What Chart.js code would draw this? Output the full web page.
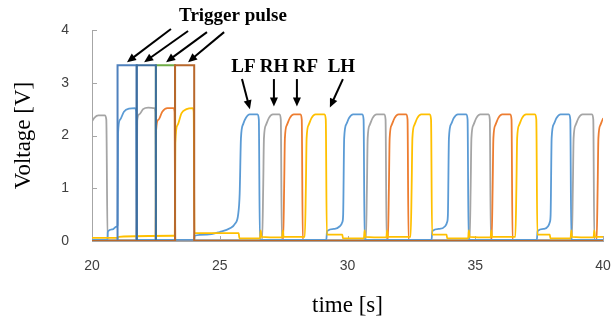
<!DOCTYPE html>
<html>
<head>
<meta charset="utf-8">
<script src="https://cdn.jsdelivr.net/npm/chart.js@4.4.1/dist/chart.umd.min.js"></script>
<style>
  body { margin: 0; background: #fff; }
</style>
</head>
<body>
<canvas id="myChart" width="615" height="320"></canvas>
<script>
// axis ticks
const xTicks = [20, 25, 30, 35, 40]
const yTicks = [0, 1, 2, 3, 4]

// trigger pulses [time s, volt]
const trigger1 = [[21.0, 0], [21.0, 3.33], [21.75, 3.33], [21.75, 0]]
const trigger2 = [[21.75, 0], [21.75, 3.33], [22.5, 3.33], [22.5, 0]]
const trigger3 = [[22.5, 0], [22.5, 3.33], [23.25, 3.33], [23.25, 0]]
const trigger4 = [[20, 0], [23.25, 0], [23.25, 3.33], [24.0, 3.33], [24.0, 0], [40, 0]]

// LF sensor (blue)
const lfTrace = [
  [20.0, 0.02], [20.6, 0.02], [20.62, 0.18], [20.8, 0.22], [20.95, 0.27],
  [21.0, 0.3], [21.02, 2.05], [21.1, 2.3], [21.25, 2.45], [21.45, 2.51], [21.68, 2.52], [21.73, 2.45], [21.76, 0.02],
  [24.0, 0.02], [24.02, 0.1], [24.5, 0.12], [25.0, 0.17], [25.4, 0.24], [25.6, 0.33], [25.72, 0.5],
  [25.78, 0.9], [25.83, 1.95], [25.92, 2.22], [26.02, 2.33], [26.17, 2.4], [26.48, 2.4], [26.53, 2.3], [26.57, 0.02],
  [29.17, 0.02], [29.2, 0.19], [29.5, 0.23], [29.7, 0.28], [29.8, 0.36],
  [29.83, 0.5], [29.87, 1.95], [29.96, 2.22], [30.06, 2.33], [30.22, 2.4], [30.58, 2.4], [30.63, 2.3], [30.67, 0.02],
  [33.29, 0.02], [33.32, 0.19], [33.6, 0.23], [33.82, 0.28], [33.9, 0.36],
  [33.93, 0.5], [33.97, 1.95], [34.06, 2.22], [34.16, 2.33], [34.32, 2.4], [34.65, 2.4], [34.7, 2.3], [34.74, 0.02],
  [37.41, 0.02], [37.44, 0.19], [37.7, 0.23], [37.85, 0.28], [37.92, 0.36],
  [37.95, 0.5], [37.99, 1.95], [38.08, 2.22], [38.18, 2.33], [38.34, 2.4], [38.67, 2.4], [38.72, 2.3], [38.76, 0.02],
  [40.1, 0.02]
]

// RH sensor (gray)
const rhTrace = [
  [20.0, 2.27], [20.1, 2.34], [20.25, 2.38], [20.5, 2.38], [20.56, 2.3], [20.61, 0.02],
  [21.74, 0.02], [21.77, 2.28], [21.85, 2.4], [22.0, 2.5], [22.2, 2.53], [22.44, 2.52], [22.48, 2.45], [22.51, 0.02],
  [26.66, 0.02], [26.7, 1.0], [26.73, 1.95], [26.81, 2.2], [26.92, 2.33], [27.08, 2.4], [27.34, 2.4], [27.39, 2.3], [27.43, 0.02],
  [30.72, 0.02], [30.76, 1.0], [30.79, 1.95], [30.87, 2.2], [30.98, 2.33], [31.14, 2.4], [31.44, 2.4], [31.49, 2.3], [31.53, 0.02],
  [34.78, 0.02], [34.82, 1.0], [34.85, 1.95], [34.93, 2.2], [35.04, 2.33], [35.2, 2.4], [35.52, 2.4], [35.57, 2.3], [35.61, 0.02],
  [38.78, 0.02], [38.82, 1.0], [38.85, 1.95], [38.93, 2.2], [39.04, 2.33], [39.2, 2.4], [39.57, 2.4], [39.62, 2.3], [39.66, 0.02],
  [40.1, 0.02]
]

// RF sensor (orange)
const rfTrace = [
  [20.0, 0], [22.49, 0], [22.51, 2.1], [22.6, 2.3], [22.75, 2.45], [22.95, 2.52], [23.19, 2.52], [23.23, 2.45], [23.26, 0],
  [27.48, 0], [27.52, 1.0], [27.55, 1.95], [27.63, 2.2], [27.74, 2.33], [27.9, 2.4], [28.16, 2.4], [28.21, 2.3], [28.25, 0],
  [31.58, 0], [31.62, 1.0], [31.65, 1.95], [31.73, 2.2], [31.84, 2.33], [32.0, 2.4], [32.3, 2.4], [32.35, 2.3], [32.39, 0],
  [35.64, 0], [35.68, 1.0], [35.71, 1.95], [35.79, 2.2], [35.9, 2.33], [36.06, 2.4], [36.37, 2.4], [36.42, 2.3], [36.46, 0],
  [39.75, 0], [39.79, 1.0], [39.82, 1.95], [39.9, 2.2], [40.01, 2.33], [40.17, 2.4]
]

// LH sensor (yellow)
const lhTrace = [
  [20.0, 0.06], [21.0, 0.06], [21.05, 0.08], [23.2, 0.1], [23.24, 0.1],
  [23.26, 1.85], [23.35, 2.2], [23.5, 2.42], [23.7, 2.5], [23.94, 2.52], [23.98, 2.45], [24.01, 0.15], [25.74, 0.15], [25.77, 0.05],
  [26.58, 0.05], [26.6, 0.2], [26.64, 0.08], [27.44, 0.07], [27.47, 0.2], [27.5, 0.08], [28.33, 0.08],
  [28.37, 1.0], [28.4, 1.95], [28.48, 2.2], [28.59, 2.33], [28.75, 2.4], [29.1, 2.4], [29.15, 2.3], [29.19, 0.12], [29.8, 0.12], [29.82, 0.05],
  [30.64, 0.05], [30.67, 0.2], [30.7, 0.08], [31.52, 0.07], [31.55, 0.2], [31.58, 0.08], [32.47, 0.08],
  [32.51, 1.0], [32.54, 1.95], [32.62, 2.2], [32.73, 2.33], [32.89, 2.4], [33.22, 2.4], [33.27, 2.3], [33.31, 0.12], [33.88, 0.12], [33.9, 0.05],
  [34.72, 0.05], [34.75, 0.2], [34.78, 0.08], [35.6, 0.07], [35.63, 0.2], [35.66, 0.08], [36.57, 0.08],
  [36.61, 1.0], [36.64, 1.95], [36.72, 2.2], [36.83, 2.33], [36.99, 2.4], [37.34, 2.4], [37.39, 2.3], [37.43, 0.12], [37.92, 0.12], [37.94, 0.05],
  [38.73, 0.05], [38.76, 0.2], [38.79, 0.08], [39.63, 0.07], [39.66, 0.2], [39.69, 0.08], [40.1, 0.08]
]

function trace(data, color, order) {
  return {
    data: data,
    showLine: true,
    borderColor: color,
    borderWidth: 1.8,
    pointRadius: 0,
    cubicInterpolationMode: 'monotone',
    order: order
  }
}

function pulse(data, color, order) {
  return {
    data: data,
    showLine: true,
    borderColor: color,
    borderWidth: 2,
    pointRadius: 0,
    tension: 0,
    order: order
  }
}

function arrow(ctx, x1, y1, x2, y2) {
  const a = Math.atan2(y2 - y1, x2 - x1)
  const h = 9, w = 4
  ctx.beginPath()
  ctx.moveTo(x1, y1)
  ctx.lineTo(x2 - h * 0.8 * Math.cos(a), y2 - h * 0.8 * Math.sin(a))
  ctx.stroke()
  ctx.beginPath()
  ctx.moveTo(x2, y2)
  ctx.lineTo(x2 - h * Math.cos(a) + w * Math.sin(a), y2 - h * Math.sin(a) - w * Math.cos(a))
  ctx.lineTo(x2 - h * Math.cos(a) - w * Math.sin(a), y2 - h * Math.sin(a) + w * Math.cos(a))
  ctx.closePath()
  ctx.fill()
}

const notes = {
  id: 'notes',
  beforeDatasetsDraw(chart) {
    const { ctx, chartArea, scales: { x, y } } = chart
    ctx.save()
    ctx.strokeStyle = '#a6a6a6'
    ctx.lineWidth = 1
    // small inward tick marks
    yTicks.forEach(v => {
      const py = Math.round(y.getPixelForValue(v)) + 0.5
      ctx.beginPath(); ctx.moveTo(chartArea.left, py); ctx.lineTo(chartArea.left + 5, py); ctx.stroke()
    })
    xTicks.forEach(v => {
      const px = Math.round(x.getPixelForValue(v)) + 0.5
      ctx.beginPath(); ctx.moveTo(px, chartArea.bottom); ctx.lineTo(px, chartArea.bottom - 5); ctx.stroke()
    })
    ctx.restore()
  },
  afterDraw(chart) {
    const { ctx, scales: { x, y } } = chart
    const px = v => x.getPixelForValue(v)
    const py = v => y.getPixelForValue(v)
    ctx.save()
    ctx.fillStyle = '#000'
    ctx.strokeStyle = '#000'
    ctx.lineWidth = 2
    ctx.font = 'bold 19px "Liberation Serif", "Times New Roman", serif'
    ctx.textAlign = 'center'
    ctx.textBaseline = 'alphabetic'
    ctx.fillText('Trigger pulse', px(25.52), py(4.17))
    ctx.fillText('LF', px(25.93), py(3.2))
    ctx.fillText('RH', px(27.12), py(3.2))
    ctx.fillText('RF', px(28.35), py(3.2))
    ctx.fillText('LH', px(29.76), py(3.2))
    // trigger arrows
    arrow(ctx, px(23.09), py(4.02), px(21.37), py(3.39))
    arrow(ctx, px(23.76), py(3.98), px(22.04), py(3.39))
    arrow(ctx, px(24.5), py(3.96), px(22.9), py(3.39))
    arrow(ctx, px(25.17), py(3.96), px(23.76), py(3.39))
    // sensor arrows
    arrow(ctx, px(25.87), py(3.07), px(26.18), py(2.5))
    arrow(ctx, px(27.12), py(3.07), px(27.12), py(2.55))
    arrow(ctx, px(28.02), py(3.07), px(28.02), py(2.55))
    arrow(ctx, px(29.82), py(3.07), px(29.31), py(2.53))
    ctx.restore()
  }
}

const config = {
  type: 'scatter',
  data: {
    datasets: [
      pulse(trigger4, '#b8682c', 0),
      pulse(trigger2, '#3d6d9e', 1),
      pulse(trigger1, '#4f81bd', 2),
      pulse(trigger3, '#70ad47', 3),
      trace(lhTrace, '#ffc000', 10),
      trace(lfTrace, '#5b9bd5', 11),
      trace(rfTrace, '#ed7d31', 12),
      trace(rhTrace, '#a5a5a5', 13)
    ]
  },
  options: {
    responsive: false,
    animation: false,
    layout: {
      padding: { top: 30, right: 12, left: 0, bottom: 0 }
    },
    scales: {
      x: {
        type: 'linear',
        min: 20,
        max: 40,
        afterFit: s => { s.height = 79; s.paddingLeft = 0; s.paddingRight = 0 },
        afterBuildTicks: s => { s.ticks = xTicks.map(v => ({ value: v })) },
        grid: { display: false, drawTicks: false },
        border: { display: true, color: '#a6a6a6' },
        ticks: {
          padding: 17,
          color: '#404040',
          font: { family: '"Liberation Sans", Arial, sans-serif', size: 14 }
        },
        title: {
          display: true,
          text: 'time [s]',
          color: '#000',
          padding: { top: 0, bottom: 0 },
          font: { family: '"Liberation Serif", "Times New Roman", serif', size: 23 }
        }
      },
      y: {
        min: 0,
        max: 4,
        afterFit: s => { s.width = 92; s.paddingTop = 0; s.paddingBottom = 0 },
        afterBuildTicks: s => { s.ticks = yTicks.map(v => ({ value: v })) },
        grid: { display: false, drawTicks: false },
        border: { display: true, color: '#a6a6a6' },
        ticks: {
          padding: 23,
          color: '#404040',
          font: { family: '"Liberation Sans", Arial, sans-serif', size: 14 }
        },
        title: {
          display: true,
          text: 'Voltage [V]',
          color: '#000',
          padding: { top: 10, bottom: 0 },
          font: { family: '"Liberation Serif", "Times New Roman", serif', size: 23 }
        }
      }
    },
    plugins: {
      legend: { display: false },
      tooltip: { enabled: false }
    }
  },
  plugins: [notes]
}

var myChart = new Chart(document.getElementById('myChart'), config)
</script>
</body>
</html>
